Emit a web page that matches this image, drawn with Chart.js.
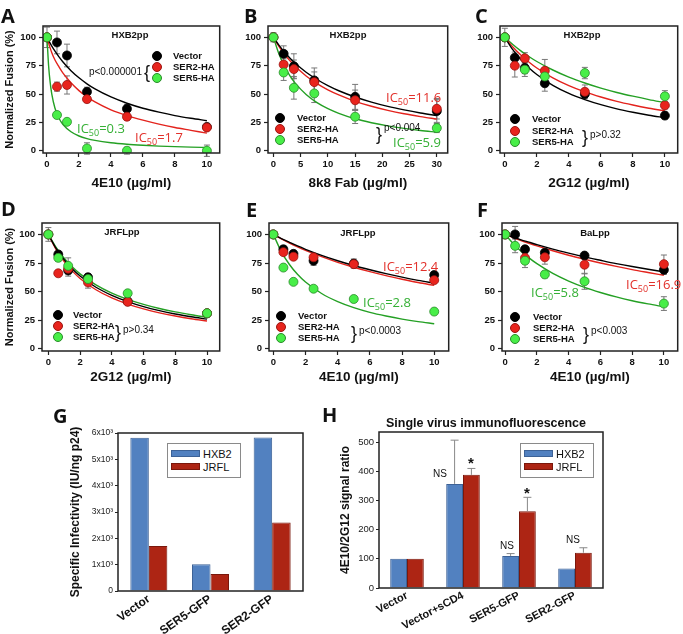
<!DOCTYPE html>
<html>
<head>
<meta charset="utf-8">
<script src="https://cdn.jsdelivr.net/npm/chart.js@4.4.1/dist/chart.umd.min.js"></script>
<style>
  body { margin: 0; background: #fff; }
  #fig { position: relative; width: 683px; height: 634px; overflow: hidden; font-family: "Liberation Sans", Arial, sans-serif; color: #111; }
  #fig canvas { position: absolute; }
  .lbl { position: absolute; white-space: nowrap; line-height: 1; }
  .l { transform: translate(0, -50%); }
  .c { transform: translate(-50%, -50%); }
  .r { transform: translate(-100%, -50%); }
  .letter { font: bold 20px "Open Sans", sans-serif; }
  .ptitle { font-weight: bold; font-size: 9.5px; }
  .leg { font-weight: bold; font-size: 9.5px; }
  .pv { font-size: 10px; }
  .brace { font-size: 18px; }
  .ic { font: 13px "Open Sans", sans-serif; }
  .ic sub { font-size: 9px; vertical-align: -3px; line-height: 0; }
  .dot { position: absolute; width: 8px; height: 8px; border-radius: 50%; transform: translate(-50%, -50%); }
  .box { position: absolute; border: 1px solid #8a8a8a; background: #fff; }
  .sw { position: absolute; }
  .ns { font-size: 10px; }
  .star { font-weight: bold; font-size: 15px; }
  .htitle { font-weight: bold; font-size: 12.5px; }
  .gl { font-size: 11px; }
</style>
</head>
<body>
<div id="fig">
  <canvas id="cA" width="225" height="195" style="left:0;top:0"></canvas>
  <canvas id="cB" width="228" height="195" style="left:225px;top:0"></canvas>
  <canvas id="cC" width="228" height="195" style="left:455px;top:0"></canvas>
  <canvas id="cD" width="225" height="195" style="left:0;top:195px"></canvas>
  <canvas id="cE" width="229" height="195" style="left:225px;top:195px"></canvas>
  <canvas id="cF" width="228" height="195" style="left:455px;top:195px"></canvas>
  <canvas id="cG" width="250" height="209" style="left:60px;top:425px"></canvas>
  <canvas id="cH" width="290" height="234" style="left:330px;top:400px"></canvas>
</div>
<script>
Chart.defaults.font.family = '"Liberation Sans", Arial, sans-serif';
Chart.defaults.color = '#111';

// antibody concentrations (µg/ml)
const conc10 = [0, 0.625, 1.25, 2.5, 5, 10];
const conc30 = [0, 1.875, 3.75, 7.5, 15, 30];
const xTicks10 = [0, 2, 4, 6, 8, 10];
const xTicks30 = [0, 5, 10, 15, 20, 25, 30];
const fusionTicks = [0, 25, 50, 75, 100];
const fitX10 = [0, 0.5, 1, 1.5, 2, 3, 4, 5, 6, 7, 8, 9, 10];

// A - HXB2pp, 4E10
const aVector = [100, 95.5, 84, 52, 37, 21];
const aVectorErr = [9, 10, 10, 4, 4, 2];
const aSer2 = [100, 56.5, 58, 45.5, 30, 20.5];
const aSer2Err = [0, 4, 8, 3, 3, 2];
const aSer5 = [100, 31.5, 25.5, 2, 0, 0];
const aSer5Err = [0, 0, 0, 5, 3, 5];
const aFitX = [0, 0.1, 0.2, 0.3, 0.5, 0.75, 1, 1.5, 2, 2.5, 3, 4, 5, 6, 7, 8, 9, 10];
const aFitVector = [100, 97.3, 94.7, 92.3, 87.8, 82.8, 78.3, 70.6, 64.3, 59, 54.5, 47.4, 41.9, 37.5, 34, 31, 28.6, 26.5];
const aFitSer2 = [100, 95, 90.5, 86.5, 80, 74, 68.5, 60, 53, 47.5, 43, 36, 31, 27, 23.5, 20.5, 18, 15.5];
const aFitSer5 = [100, 75, 60, 50, 37.5, 28.6, 23.1, 16.7, 13, 10.7, 9.1, 7, 5.7, 4.8, 4.1, 3.6, 3.2, 2.9];

// B - HXB2pp, 8k8 Fab
const bVector = [100, 85.5, 74.5, 62, 47.5, 35];
const bVectorErr = [4, 7, 11, 11, 11, 10];
const bSer2 = [100, 76, 72, 60.5, 44.5, 37];
const bSer2Err = [0, 5, 8, 9, 9, 9];
const bSer5 = [100, 69, 55.5, 50.5, 30, 20];
const bSer5Err = [0, 7, 10, 8, 6, 4];
const bFitX = [0, 1, 2, 3, 4, 6, 8, 10, 12, 15, 18, 21, 24, 27, 30];
const bFitVector = [100, 93.1, 87.1, 81.8, 77.1, 69.2, 62.8, 57.4, 52.9, 47.4, 42.9, 39.1, 36, 33.3, 31];
const bFitSer2 = [100, 92.1, 85.3, 79.5, 74.4, 65.9, 59.2, 53.7, 49.2, 43.6, 39.2, 35.6, 32.6, 30.1, 27.9];
const bFitSer5 = [100, 85.5, 74.7, 66.3, 59.6, 49.6, 42.4, 37.1, 33, 28.2, 24.7, 21.9, 19.7, 17.9, 16.4];

// C - HXB2pp, 2G12
const cVector = [100, 82, 73, 59.5, 50, 31];
const cVectorErr = [8, 5, 5, 7, 3, 3];
const cSer2 = [100, 75, 81.5, 70.5, 52, 40];
const cSer2Err = [0, 10, 5, 10, 6, 3];
const cSer5 = [100, null, 71.5, 65.5, 68.5, 48];
const cSer5Err = [0, 0, 6, 4, 5, 5];
const cFitVector = [100, 89.1, 80.4, 73.2, 67.2, 57.7, 50.6, 45.1, 40.6, 36.9, 33.9, 31.3, 29.1];
const cFitSer2 = [100, 91.5, 84.4, 78.3, 73, 64.3, 57.4, 51.9, 47.4, 43.5, 40.3, 37.5, 35.1];
const cFitSer5 = [100, 93.7, 88.1, 83.1, 78.7, 71.2, 64.9, 59.7, 55.2, 51.4, 48.1, 45.1, 42.5];

// D - JRFLpp, 2G12
const dVector = [100, 82.5, 68.5, 62.5, 41.5, 31];
const dVectorErr = [6, 3, 5, 3, 2, 2];
const dSer2 = [100, 66, 70, 58, 41, 31];
const dSer2Err = [0, 0, 0, 5, 0, 0];
const dSer5 = [100, 79.5, 72.5, 61, 48.5, 31];
const dSer5Err = [0, 3, 7, 0, 0, 0];
const dFitVector = [100, 87.5, 77.8, 70, 63.6, 53.8, 46.7, 41.2, 36.8, 33.3, 30.4, 28, 25.9];
const dFitSer2 = [100, 86.5, 76.2, 68.1, 61.5, 51.6, 44.4, 39, 34.8, 31.4, 28.6, 26.2, 24.2];
const dFitSer5 = [100, 88.4, 79.2, 71.7, 65.5, 55.9, 48.7, 43.2, 38.8, 35.2, 32.2, 29.7, 27.5];

// E - JRFLpp, 4E10
const eVector = [100, 87, 83, 77, 74.5, 64.5];
const eVectorErr = [0, 3, 3, 4, 4, 0];
const eSer2 = [100, 84.5, 80.5, 80, 74, 60];
const eSer2Err = [0, 0, 0, 0, 0, 0];
const eSer5 = [100, 71, 58.5, 52.5, 43.5, 32.5];
const eSer5Err = [0, 0, 0, 0, 0, 0];
const eFitVector = [100, 96.4, 93.1, 89.9, 87, 81.7, 77, 72.8, 69.1, 65.7, 62.6, 59.8, 57.3];
const eFitSer2 = [100, 96.1, 92.5, 89.2, 86.1, 80.5, 75.6, 71.3, 67.4, 63.9, 60.8, 57.9, 55.4];
const eFitSer5 = [100, 84.8, 73.7, 65.1, 58.3, 48.3, 41.2, 35.9, 31.8, 28.6, 25.9, 23.7, 21.9];

// F - BaLpp, 4E10
const fVector = [100, 100, 87, 84, 81.5, 69];
const fVectorErr = [3, 7, 0, 0, 0, 4];
const fSer2 = [100, null, 79.5, 80, 73.5, 74];
const fSer2Err = [0, 0, 5, 6, 8, 8];
const fSer5 = [100, 90, 77, 65, 59, 39.5];
const fSer5Err = [0, 6, 6, 3, 7, 6];
const fFitVector = [100, 97.6, 95.3, 93.2, 91.1, 87.2, 83.7, 80.4, 77.4, 74.5, 71.9, 69.5, 67.2];
const fFitSer2 = [100, 97.3, 94.7, 92.3, 90, 85.7, 81.8, 78.3, 75, 72, 69.2, 66.7, 64.3];
const fFitSer5 = [100, 92.1, 85.3, 79.5, 74.4, 65.9, 59.2, 53.7, 49.2, 45.3, 42, 39.2, 36.7];

// G - specific infectivity
const gGroups = ['Vector', 'SER5-GFP', 'SER2-GFP'];
const gHXB2 = [5820, 1020, 5830];
const gJRFL = [1710, 650, 2600];
const gTicks = [0, 1000, 2000, 3000, 4000, 5000, 6000];
const gTickLabels = ['0', '1x10³', '2x10³', '3x10³', '4x10³', '5x10³', '6x10³'];

// H - single virus immunofluorescence
const hGroups = ['Vector', 'Vector+sCD4', 'SER5-GFP', 'SER2-GFP'];
const hHXB2 = [100, 357, 110, 67];
const hHXB2Err = [0, 150, 8, 0];
const hJRFL = [100, 388, 263, 121];
const hJRFLErr = [0, 22, 48, 17];
const hTicks = [0, 100, 200, 300, 400, 500];

const RED = '#e3231d', GREEN = '#24a024';
const BLUE_BAR = '#5281c0', RED_BAR = '#ad2514';

const frame = {
  id: 'frame',
  afterDraw(chart) {
    const a = chart.chartArea, ctx = chart.ctx;
    ctx.save();
    ctx.strokeStyle = '#222';
    ctx.lineWidth = 1.5;
    ctx.strokeRect(a.left, a.top, a.right - a.left, a.bottom - a.top);
    ctx.restore();
  }
};

// symmetric whiskers for the fusion points
const errBars = {
  id: 'errBars',
  beforeDatasetsDraw(chart) {
    const {ctx, scales: {x, y}} = chart;
    ctx.save();
    ctx.strokeStyle = '#777';
    ctx.lineWidth = 1;
    chart.data.datasets.forEach(ds => {
      if (!ds.err) return;
      ds.data.forEach((p, i) => {
        const e = ds.err[i];
        if (!e || p.y == null) return;
        const px = x.getPixelForValue(p.x);
        const t = y.getPixelForValue(p.y + e), b = y.getPixelForValue(p.y - e);
        ctx.beginPath();
        ctx.moveTo(px, t); ctx.lineTo(px, b);
        ctx.moveTo(px - 3, t); ctx.lineTo(px + 3, t);
        ctx.moveTo(px - 3, b); ctx.lineTo(px + 3, b);
        ctx.stroke();
      });
    });
    ctx.restore();
  }
};

// upward-only whiskers for bars
const barErr = {
  id: 'barErr',
  afterDatasetsDraw(chart) {
    const {ctx, scales: {y}} = chart;
    ctx.save();
    ctx.strokeStyle = '#888';
    ctx.lineWidth = 1;
    chart.data.datasets.forEach((ds, di) => {
      if (!ds.errUp) return;
      chart.getDatasetMeta(di).data.forEach((bar, i) => {
        const e = ds.errUp[i];
        if (!e) return;
        const t = y.getPixelForValue(ds.data[i] + e);
        ctx.beginPath();
        ctx.moveTo(bar.x, bar.y); ctx.lineTo(bar.x, t);
        ctx.moveTo(bar.x - 4, t); ctx.lineTo(bar.x + 4, t);
        ctx.stroke();
      });
    });
    ctx.restore();
  }
};

const pts = (xs, ys) => xs.map((x, i) => ({x, y: ys[i]}));

function fusion(id, p) {
  const curve = (ys, color) => ({data: pts(p.fitX, ys), showLine: true, borderColor: color, borderWidth: 1.4,
    pointRadius: 0, cubicInterpolationMode: 'monotone', order: 10});
  const dots = (ys, err, fill, edge, order) => ({data: pts(p.x, ys), err, backgroundColor: fill, borderColor: edge,
    borderWidth: 0.8, pointRadius: 4.5, order});
  const tickGrid = {drawOnChartArea: false, tickLength: 4, tickColor: '#222', tickWidth: 1.2};
  new Chart(document.getElementById(id), {
    type: 'scatter',
    data: {datasets: [
      curve(p.fits[0], '#000'), curve(p.fits[1], RED), curve(p.fits[2], GREEN),
      dots(p.vec, p.vecErr, '#000', '#000', 3),
      dots(p.ser2, p.ser2Err, '#e8241d', '#9a1410', 2),
      dots(p.ser5, p.ser5Err, '#48ee48', '#2a8a2a', 1)
    ]},
    options: {
      responsive: false, animation: false, devicePixelRatio: 1,
      layout: {padding: {top: p.padTop, right: p.padRight, left: 0, bottom: 0}},
      plugins: {legend: {display: false}, tooltip: {enabled: false}},
      scales: {
        x: {type: 'linear', min: p.xmin, max: p.xmax,
          afterBuildTicks: s => { s.ticks = p.xTicks.map(v => ({value: v})); },
          afterFit: s => { s.height = p.xH; },
          border: {display: false}, grid: tickGrid,
          ticks: {font: {size: 9.5, weight: 'bold'}, color: '#111', padding: 2, maxRotation: 0, autoSkip: false},
          title: {display: true, text: p.xTitle, font: {size: 13.5, weight: 'bold'}, color: '#111',
            padding: {top: 0, bottom: p.xTitlePad}}},
        y: {min: -2, max: 110,
          afterBuildTicks: s => { s.ticks = fusionTicks.map(v => ({value: v})); },
          afterFit: s => { s.width = p.yW; },
          border: {display: false}, grid: tickGrid,
          ticks: {font: {size: 9.5, weight: 'bold'}, color: '#111', padding: 3},
          title: {display: !!p.yTitle, text: p.yTitle || '', font: {size: 11, weight: 'bold'}, color: '#111',
            padding: {top: 3}}}
      }
    },
    plugins: [frame, errBars]
  });
}

const yLab = 'Normalized Fusion (%)';
fusion('cA', {x: conc10, fitX: aFitX, fits: [aFitVector, aFitSer2, aFitSer5],
  vec: aVector, vecErr: aVectorErr, ser2: aSer2, ser2Err: aSer2Err, ser5: aSer5, ser5Err: aSer5Err,
  xmin: -0.25, xmax: 10.8, xTicks: xTicks10, xTitle: '4E10 (µg/ml)', yTitle: yLab,
  padTop: 26, padRight: 4, yW: 43, xH: 42, xTitlePad: 4});
fusion('cB', {x: conc30, fitX: bFitX, fits: [bFitVector, bFitSer2, bFitSer5],
  vec: bVector, vecErr: bVectorErr, ser2: bSer2, ser2Err: bSer2Err, ser5: bSer5, ser5Err: bSer5Err,
  xmin: -1, xmax: 32, xTicks: xTicks30, xTitle: '8k8 Fab (µg/ml)',
  padTop: 26, padRight: 4, yW: 43, xH: 42, xTitlePad: 4});
fusion('cC', {x: conc10, fitX: fitX10, fits: [cFitVector, cFitSer2, cFitSer5],
  vec: cVector, vecErr: cVectorErr, ser2: cSer2, ser2Err: cSer2Err, ser5: cSer5, ser5Err: cSer5Err,
  xmin: -0.3, xmax: 10.8, xTicks: xTicks10, xTitle: '2G12 (µg/ml)',
  padTop: 26, padRight: 3, yW: 45, xH: 42, xTitlePad: 4});
fusion('cD', {x: conc10, fitX: fitX10, fits: [dFitVector, dFitSer2, dFitSer5],
  vec: dVector, vecErr: dVectorErr, ser2: dSer2, ser2Err: dSer2Err, ser5: dSer5, ser5Err: dSer5Err,
  xmin: -0.4, xmax: 10.8, xTicks: xTicks10, xTitle: '2G12 (µg/ml)', yTitle: yLab,
  padTop: 28, padRight: 4, yW: 42, xH: 39, xTitlePad: 5});
fusion('cE', {x: conc10, fitX: fitX10, fits: [eFitVector, eFitSer2, eFitSer5],
  vec: eVector, vecErr: eVectorErr, ser2: eSer2, ser2Err: eSer2Err, ser5: eSer5, ser5Err: eSer5Err,
  xmin: -0.27, xmax: 10.9, xTicks: xTicks10, xTitle: '4E10 (µg/ml)',
  padTop: 28, padRight: 4, yW: 44, xH: 39, xTitlePad: 5});
fusion('cF', {x: conc10, fitX: fitX10, fits: [fFitVector, fFitSer2, fFitSer5],
  vec: fVector, vecErr: fVectorErr, ser2: fSer2, ser2Err: fSer2Err, ser5: fSer5, ser5Err: fSer5Err,
  xmin: -0.2, xmax: 10.87, xTicks: xTicks10, xTitle: '4E10 (µg/ml)',
  padTop: 28, padRight: 3, yW: 47, xH: 39, xTitlePad: 5});

function barChart(id, o) {
  new Chart(document.getElementById(id), {
    type: 'bar',
    data: {labels: o.labels, datasets: [
      {data: o.hxb2, errUp: o.hxb2Err, backgroundColor: BLUE_BAR, borderColor: '#3d6296', borderWidth: 1,
        categoryPercentage: 0.6, barPercentage: 1},
      {data: o.jrfl, errUp: o.jrflErr, backgroundColor: RED_BAR, borderColor: '#7a180c', borderWidth: 1,
        categoryPercentage: 0.6, barPercentage: 1}
    ]},
    options: {
      responsive: false, animation: false, devicePixelRatio: 1,
      layout: {padding: {top: o.padTop, right: o.padRight, left: 0, bottom: 0}},
      plugins: {legend: {display: false}, tooltip: {enabled: false}},
      scales: {
        x: {grid: {display: false, drawTicks: false}, border: {display: false},
          afterFit: s => { s.height = o.xH; },
          ticks: {font: {size: o.xFont, weight: 'bold'}, color: '#111', minRotation: o.rot, maxRotation: o.rot,
            padding: 1, autoSkip: false}},
        y: {min: 0, max: o.ymax,
          afterBuildTicks: s => { s.ticks = o.ticks.map(v => ({value: v})); },
          afterFit: s => { s.width = o.yW; },
          border: {display: false},
          grid: {drawOnChartArea: false, tickLength: 3, tickColor: '#222'},
          ticks: {font: {size: o.yFont}, color: '#222', padding: 2,
            callback: (v, i) => o.tickLabels ? o.tickLabels[i] : v},
          title: {display: true, text: o.yTitle, font: {size: 12, weight: 'bold'}, color: '#111',
            padding: {top: o.yTitlePad}}}
      }
    },
    plugins: [frame, barErr]
  });
}

barChart('cG', {labels: gGroups, hxb2: gHXB2, jrfl: gJRFL, ymax: 6000, ticks: gTicks, tickLabels: gTickLabels,
  yTitle: 'Specific Infectivity (IU/ng p24)', padTop: 8, padRight: 7, yW: 58, xH: 43,
  xFont: 12, yFont: 8.5, rot: 35, yTitlePad: 8});
barChart('cH', {labels: hGroups, hxb2: hHXB2, hxb2Err: hHXB2Err, jrfl: hJRFL, jrflErr: hJRFLErr, ymax: 535,
  ticks: hTicks, yTitle: '4E10/2G12 signal ratio', padTop: 32, padRight: 17, yW: 49, xH: 46,
  xFont: 11, yFont: 9.5, rot: 28, yTitlePad: 8});

// text overlays
const fig = document.getElementById('fig');
function put(x, y, html, cls, color) {
  const d = document.createElement('div');
  d.className = 'lbl ' + cls;
  d.style.left = x + 'px';
  d.style.top = y + 'px';
  if (color) d.style.color = color;
  d.innerHTML = html;
  fig.appendChild(d);
}
function dot(x, y, fill, edge) {
  const d = document.createElement('div');
  d.className = 'dot';
  d.style.cssText = `left:${x}px;top:${y}px;background:${fill};border:1px solid ${edge}`;
  fig.appendChild(d);
}
function legend(dx, tx, ys) {
  const names = ['Vector', 'SER2-HA', 'SER5-HA'];
  const fills = [['#000', '#000'], ['#e8241d', '#9a1410'], ['#48ee48', '#2a8a2a']];
  ys.forEach((y, i) => { dot(dx, y, fills[i][0], fills[i][1]); put(tx, y, names[i], 'l leg'); });
}
const ic = v => 'IC<sub>50</sub>=' + v;

[['A', 1, 15], ['B', 244, 15], ['C', 475, 15], ['D', 1, 208], ['E', 246, 209], ['F', 477, 209],
 ['G', 53, 415], ['H', 322, 414]].forEach(([t, x, y]) => put(x, y, t, 'l letter'));

put(130, 35, 'HXB2pp', 'c ptitle');
put(348, 35, 'HXB2pp', 'c ptitle');
put(582, 35, 'HXB2pp', 'c ptitle');
put(122, 232, 'JRFLpp', 'c ptitle');
put(358, 233, 'JRFLpp', 'c ptitle');
put(595, 233, 'BaLpp', 'c ptitle');

legend(157, 173, [56, 67, 78]);
legend(280, 297, [118, 129, 140]);
legend(515, 532, [119, 131, 142]);
legend(58, 73, [315, 326, 337]);
legend(281, 298, [316, 327, 338]);
legend(515, 533, [317, 328, 339]);

put(142, 72, 'p&lt;0.000001', 'r pv');
put(144, 72, '{', 'l brace');
put(376, 134, '}', 'l brace'); put(384, 128, 'p&lt;0.004', 'l pv');
put(582, 137, '}', 'l brace'); put(590, 135, 'p&gt;0.32', 'l pv');
put(115, 332, '}', 'l brace'); put(123, 330, 'p&gt;0.34', 'l pv');
put(351, 333, '}', 'l brace'); put(359, 331, 'p&lt;0.0003', 'l pv');
put(583, 334, '}', 'l brace'); put(591, 331, 'p&lt;0.003', 'l pv');

put(77, 128, ic('0.3'), 'l ic', '#35b035');
put(135, 137, ic('1.7'), 'l ic', '#e2302a');
put(386, 97, ic('11.6'), 'l ic', '#e2302a');
put(393, 142, ic('5.9'), 'l ic', '#35b035');
put(383, 266, ic('12.4'), 'l ic', '#e2302a');
put(363, 302, ic('2.8'), 'l ic', '#35b035');
put(531, 292, ic('5.8'), 'l ic', '#35b035');
put(626, 284, ic('16.9'), 'l ic', '#e2302a');

// G / H legends
function barLegend(bx, by, sx, tx) {
  const b = document.createElement('div');
  b.className = 'box';
  b.style.cssText = `left:${bx}px;top:${by}px;width:72px;height:33px`;
  fig.appendChild(b);
  [[BLUE_BAR, '#3d6296', 'HXB2', 453], [RED_BAR, '#7a180c', 'JRFL', 466]].forEach(([f, e, t, y]) => {
    const s = document.createElement('div');
    s.className = 'sw';
    s.style.cssText = `left:${sx}px;top:${y - 3}px;width:27px;height:5px;background:${f};border:1px solid ${e}`;
    fig.appendChild(s);
    put(tx, y + 1, t, 'l gl');
  });
}
barLegend(167, 443, 171, 203);
barLegend(520, 443, 524, 556);

put(486, 423, 'Single virus immunofluorescence', 'c htitle');
put(440, 474, 'NS', 'c ns');
put(471, 462, '*', 'c star');
put(507, 546, 'NS', 'c ns');
put(527, 492, '*', 'c star');
put(573, 540, 'NS', 'c ns');
</script>
</body>
</html>
